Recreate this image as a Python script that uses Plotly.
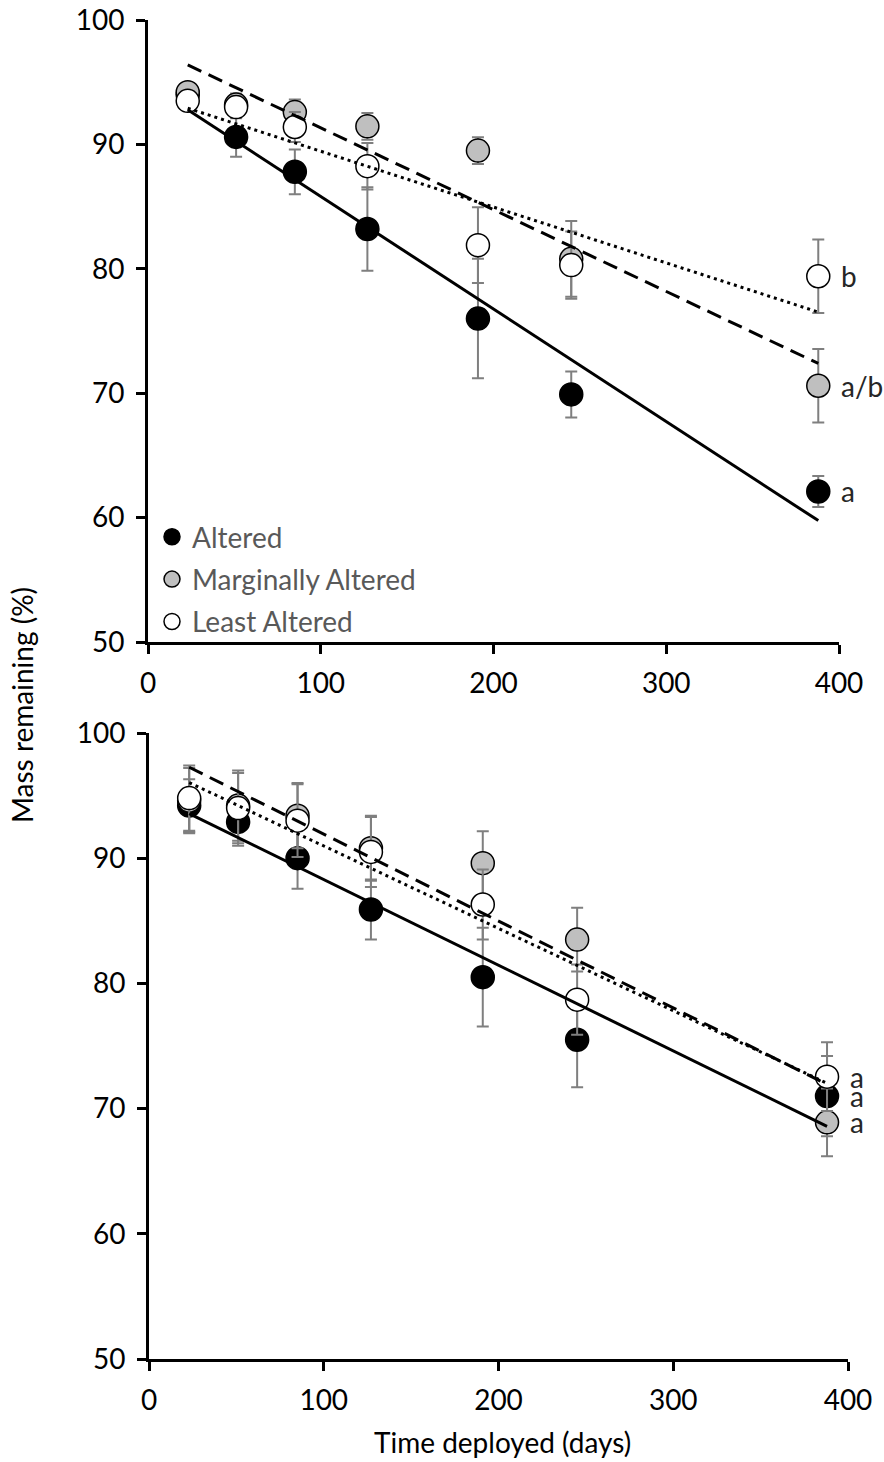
import numpy as np
import plotly.graph_objects as go

# Sampling times (days deployed)
days = [23, 51, 85, 127, 191, 245, 388]

# Upper panel: mean mass remaining (%) and standard error
altered_top = [94.0, 90.6, 87.8, 83.2, 76.0, 69.9, 62.1]
altered_top_se = [0.6, 1.6, 1.8, 3.35, 4.8, 1.85, 1.25]
marginal_top = [94.2, 93.2, 92.6, 91.45, 89.5, 80.8, 70.6]
marginal_top_se = [0.6, 0.9, 1.0, 1.07, 1.07, 3.05, 2.95]
least_top = [93.5, 93.0, 91.4, 88.25, 81.9, 80.3, 79.4]
least_top_se = [0.6, 0.9, 1.2, 1.87, 3.05, 2.7, 2.95]

# Lower panel
altered_bot = [94.2, 92.9, 90.0, 85.9, 80.5, 75.5, 71.0]
altered_bot_se = [2.1, 1.9, 2.45, 2.4, 3.95, 3.8, 3.2]
marginal_bot = [94.6, 94.2, 93.4, 90.8, 89.6, 83.5, 68.9]
marginal_bot_se = [2.6, 2.8, 2.6, 2.6, 2.55, 2.55, 2.7]
least_bot = [94.8, 94.0, 93.0, 90.5, 86.3, 78.7, 72.55]
least_bot_se = [2.6, 2.8, 2.9, 2.8, 2.8, 2.8, 2.75]

# Significance letters at the final sampling
letters_top = ["a", "a/b", "b"]
letters_bot = ["a", "a", "a"]

series_names = ["Altered", "Marginally Altered", "Least Altered"]
fills = ["#000000", "#bfbfbf", "#ffffff"]
dashes = ["solid", "15px,8px", "3px,4px"]

FONT = "Lato, Carlito, Calibri, sans-serif"
FS = 28

fig = go.Figure()

panels = [
    ("x", "y", [altered_top, marginal_top, least_top],
     [altered_top_se, marginal_top_se, least_top_se], letters_top, True),
    ("x2", "y2", [altered_bot, marginal_bot, least_bot],
     [altered_bot_se, marginal_bot_se, least_bot_se], letters_bot, False),
]

for xa, ya, vals, ses, letters, show in panels:
    # points with error bars
    for i in range(3):
        fig.add_trace(go.Scatter(
            x=days, y=vals[i], xaxis=xa, yaxis=ya, mode="markers",
            name=series_names[i], legendgroup=series_names[i], showlegend=show,
            marker=dict(size=23, color=fills[i], line=dict(color="#000000", width=1.5)),
            error_y=dict(type="data", array=ses[i], color="#7f7f7f", thickness=2, width=6),
        ))
    # linear trends fitted to each series
    for i in range(3):
        slope, icpt = np.polyfit(days, vals[i], 1)
        xs = np.array([days[0], days[-1]])
        fig.add_trace(go.Scatter(
            x=xs, y=slope * xs + icpt, xaxis=xa, yaxis=ya, mode="lines",
            showlegend=False, hoverinfo="skip",
            line=dict(color="#000000", width=3, dash=dashes[i]),
        ))
    # letters beside the last points
    for i in range(3):
        fig.add_annotation(
            x=days[-1], y=vals[i][-1], xref=xa, yref=ya, text=letters[i],
            showarrow=False, xanchor="left", yanchor="middle", xshift=21,
            font=dict(family=FONT, size=FS, color="#262626"),
        )

tick_style = dict(
    showgrid=False, zeroline=False, automargin=False,
    showline=True, linecolor="#000000", linewidth=3,
    ticks="outside", ticklen=9, tickwidth=3, tickcolor="#000000",
    tickfont=dict(family=FONT, size=FS, color="#000000"),
)
xaxis_common = dict(range=[0, 400], dtick=100, ticklabelstandoff=5, **tick_style)
yaxis_common = dict(range=[50, 100], dtick=10, ticklabelstandoff=6, **tick_style)

W, H = 884, 1462
fig.update_layout(
    width=W, height=H, margin=dict(l=0, r=0, t=0, b=0, autoexpand=False),
    paper_bgcolor="#ffffff", plot_bgcolor="#ffffff",
    xaxis=dict(domain=[148 / W, 839 / W], anchor="y", **xaxis_common),
    yaxis=dict(domain=[1 - 642 / H, 1 - 20 / H], anchor="x", **yaxis_common),
    xaxis2=dict(domain=[149 / W, 848 / W], anchor="y2", **xaxis_common),
    yaxis2=dict(domain=[1 - 1359 / H, 1 - 733 / H], anchor="x2", **yaxis_common),
    legend=dict(
        x=152 / W, y=1 - 512 / H, xanchor="left", yanchor="top",
        bgcolor="rgba(0,0,0,0)", tracegroupgap=3,
        font=dict(family=FONT, size=FS, color="#595959"),
    ),
    showlegend=True,
)

# shared axis titles
fig.add_annotation(
    x=22 / W, y=1 - 705 / H, xref="paper", yref="paper", text="Mass remaining (%)",
    textangle=-90, showarrow=False, xanchor="center", yanchor="middle",
    font=dict(family=FONT, size=FS, color="#000000"),
)
fig.add_annotation(
    x=502 / W, y=1 - 1442 / H, xref="paper", yref="paper", text="Time deployed (days)",
    showarrow=False, xanchor="center", yanchor="middle",
    font=dict(family=FONT, size=FS, color="#000000"),
)

fig.write_html("out.html")
